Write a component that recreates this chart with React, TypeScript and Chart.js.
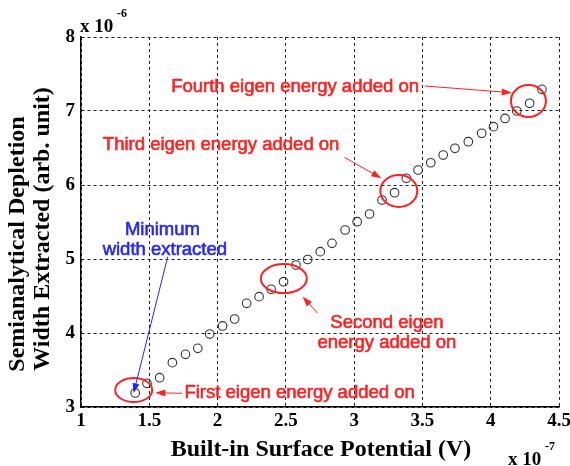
import React, { useEffect, useRef } from "react";
import { Chart, registerables } from "chart.js";

Chart.register(...registerables);

// Built-in surface potential (x 1e-7 V)
const potential = [
  1.397, 1.483, 1.576, 1.669, 1.765, 1.855, 1.943, 2.037, 2.125, 2.213,
  2.304, 2.392, 2.483, 2.574, 2.66, 2.752, 2.838, 2.934, 3.022, 3.113,
  3.204, 3.296, 3.382, 3.468, 3.561, 3.652, 3.738, 3.836, 3.934, 4.02,
  4.105, 4.191, 4.285, 4.375,
];
// Semianalytical depletion width (x 1e-6 arb. unit)
const depletion = [
  3.189, 3.32, 3.396, 3.599, 3.712, 3.793, 3.986, 4.095, 4.189, 4.401,
  4.491, 4.591, 4.693, 4.919, 4.993, 5.099, 5.212, 5.392, 5.504, 5.608,
  5.797, 5.896, 6.091, 6.203, 6.301, 6.405, 6.496, 6.585, 6.699, 6.788,
  6.899, 7.0, 7.104, 7.293,
];
const xTicks = [1, 1.5, 2, 2.5, 3, 3.5, 4, 4.5];
const yTicks = [3, 4, 5, 6, 7, 8];

const xTitle = "Built-in Surface Potential (V)";
const yTitleLines = ["Semianalytical Depletion", "Width Extracted (arb. unit)"];

// Annotations (data coordinates)
const ellipseCenters = [
  { x: 1.386, y: 3.23 },
  { x: 2.485, y: 4.736 },
  { x: 3.327, y: 5.919 },
  { x: 4.276, y: 7.135 },
];
const ellipseRadii = [
  { rx: 18.5, ry: 12 },
  { rx: 23, ry: 14.5 },
  { rx: 18.5, ry: 16 },
  { rx: 17.5, ry: 16 },
];
const redArrows = [
  { x1: 1.74, y1: 3.185, x2: 1.544, y2: 3.193 },
  { x1: 2.733, y1: 4.266, x2: 2.623, y2: 4.491 },
  { x1: 2.929, y1: 6.374, x2: 3.199, y2: 6.091 },
  { x1: 3.517, y1: 7.338, x2: 4.154, y2: 7.247 },
];
const blueArrow = { x1: 1.635, y1: 5.031, x2: 1.385, y2: 3.185 };
const redLabels = [
  { text: "Fourth eigen energy added on", x: 1.66, y: 7.328, align: "left" },
  { text: "Third eigen energy added on", x: 1.16, y: 6.541, align: "left" },
  { text: "First eigen energy added on", x: 1.757, y: 3.185, align: "left" },
  { text: "Second eigen", x: 3.24, y: 4.139, align: "center" },
  { text: "energy added on", x: 3.24, y: 3.861, align: "center" },
];
const blueLabels = [
  { text: "Minimum", x: 1.596, y: 5.392 },
  { text: "width extracted", x: 1.614, y: 5.122 },
];

const RED = "#ff2020";
const BLUE = "#2626ff";
const SERIF = "'Liberation Serif', 'Times New Roman', serif";
const SANS = "'Liberation Sans', Arial, sans-serif";

function drawArrow(ctx: CanvasRenderingContext2D, x1: number, y1: number, x2: number, y2: number, color: string) {
  const ang = Math.atan2(y2 - y1, x2 - x1);
  const len = 10;
  const hw = 3.5;
  ctx.save();
  ctx.strokeStyle = color;
  ctx.fillStyle = color;
  ctx.lineWidth = 1;
  ctx.beginPath();
  ctx.moveTo(x1, y1);
  ctx.lineTo(x2 - Math.cos(ang) * len * 0.8, y2 - Math.sin(ang) * len * 0.8);
  ctx.stroke();
  ctx.beginPath();
  ctx.moveTo(x2, y2);
  ctx.lineTo(x2 - Math.cos(ang) * len - Math.sin(ang) * hw, y2 - Math.sin(ang) * len + Math.cos(ang) * hw);
  ctx.lineTo(x2 - Math.cos(ang) * len + Math.sin(ang) * hw, y2 - Math.sin(ang) * len - Math.cos(ang) * hw);
  ctx.closePath();
  ctx.fill();
  ctx.restore();
}

function heavyText(ctx: CanvasRenderingContext2D, text: string, x: number, y: number, color: string) {
  ctx.fillStyle = color;
  ctx.strokeStyle = color;
  ctx.lineWidth = 0.6;
  ctx.fillText(text, x, y);
  ctx.strokeText(text, x, y);
}

const annotationPlugin = {
  id: "annotations",
  afterDraw(chart: any) {
    const ctx: CanvasRenderingContext2D = chart.ctx;
    const xs = chart.scales.x;
    const ys = chart.scales.y;
    const px = (v: number) => xs.getPixelForValue(v);
    const py = (v: number) => ys.getPixelForValue(v);
    const area = chart.chartArea;

    ctx.save();
    // ellipses
    ctx.strokeStyle = RED;
    ctx.lineWidth = 2;
    ellipseCenters.forEach((c, i) => {
      ctx.beginPath();
      ctx.ellipse(px(c.x), py(c.y), ellipseRadii[i].rx, ellipseRadii[i].ry, 0, 0, Math.PI * 2);
      ctx.stroke();
    });
    // arrows
    redArrows.forEach((a) => drawArrow(ctx, px(a.x1), py(a.y1), px(a.x2), py(a.y2), RED));
    drawArrow(ctx, px(blueArrow.x1), py(blueArrow.y1), px(blueArrow.x2), py(blueArrow.y2), BLUE);

    // labels
    ctx.font = `18.5px ${SANS}`;
    ctx.textBaseline = "middle";
    redLabels.forEach((l) => {
      ctx.textAlign = l.align as CanvasTextAlign;
      heavyText(ctx, l.text, px(l.x), py(l.y), RED);
    });
    ctx.textAlign = "center";
    blueLabels.forEach((l) => heavyText(ctx, l.text, px(l.x), py(l.y), BLUE));

    // axis titles
    ctx.fillStyle = "#000";
    ctx.font = `bold 24px ${SERIF}`;
    ctx.textAlign = "center";
    ctx.fillText(xTitle, (area.left + area.right) / 2 + 1, 450);
    const yCenters = [244, 229];
    const yXs = [18, 43];
    yTitleLines.forEach((t, i) => {
      ctx.save();
      ctx.translate(yXs[i], yCenters[i]);
      ctx.rotate(-Math.PI / 2);
      ctx.fillText(t, 0, 0);
      ctx.restore();
    });

    // exponent multipliers
    ctx.textAlign = "left";
    ctx.font = `bold 19px ${SERIF}`;
    ctx.fillText("x 10", area.left - 1, area.top - 10);
    ctx.font = `bold 12px ${SERIF}`;
    ctx.fillText("-6", area.left + 36, area.top - 23);
    ctx.font = `bold 19px ${SERIF}`;
    ctx.fillText("x 10", area.right - 51, 460);
    ctx.font = `bold 12px ${SERIF}`;
    ctx.fillText("-7", area.right - 14, 447);
    ctx.restore();
  },
};

export default function App() {
  const ref = useRef<HTMLCanvasElement | null>(null);
  useEffect(() => {
    if (!ref.current) return;
    const chart = new Chart(ref.current, {
      type: "scatter",
      data: {
        datasets: [
          {
            data: potential.map((x, i) => ({ x, y: depletion[i] })),
            showLine: false,
            pointStyle: "circle",
            pointRadius: 4.3,
            pointBorderWidth: 1.1,
            pointBorderColor: "#333",
            pointBackgroundColor: "rgba(0,0,0,0)",
          },
        ],
      },
      options: {
        animation: false,
        responsive: false,
        maintainAspectRatio: false,
        layout: { padding: { left: 0, top: 37, right: 11, bottom: 0 } },
        plugins: { legend: { display: false }, tooltip: { enabled: false } },
        scales: {
          x: {
            type: "linear",
            min: 1,
            max: 4.5,
            afterBuildTicks: (s: any) => {
              s.ticks = xTicks.map((v) => ({ value: v }));
            },
            afterFit: (s: any) => {
              s.height = 59;
              s.paddingLeft = 0;
              s.paddingRight = 0;
            },
            ticks: {
              color: "#000",
              font: { family: SERIF, size: 19, weight: "bold" },
              padding: 3,
              maxRotation: 0,
              autoSkip: false,
              callback: (v: any) => String(v),
            },
            grid: { color: "#222", lineWidth: 1, drawTicks: false },
            border: { display: true, color: "#000", width: 1.5, dash: [3, 3] },
          },
          y: {
            type: "linear",
            min: 3,
            max: 8,
            afterBuildTicks: (s: any) => {
              s.ticks = yTicks.map((v) => ({ value: v }));
            },
            afterFit: (s: any) => {
              s.width = 81;
              s.paddingTop = 0;
              s.paddingBottom = 0;
            },
            ticks: {
              color: "#000",
              font: { family: SERIF, size: 19, weight: "bold" },
              padding: 6,
              autoSkip: false,
              callback: (v: any) => String(v),
            },
            grid: { color: "#222", lineWidth: 1, drawTicks: false },
            border: { display: true, color: "#000", width: 1.5, dash: [3, 3] },
          },
        },
      },
      plugins: [annotationPlugin],
    } as any);
    return () => chart.destroy();
  }, []);
  return (
    <div style={{ position: "absolute", left: 0, top: 0, width: 570, height: 466, background: "#fff" }}>
      <canvas ref={ref} width={570} height={466} style={{ width: 570, height: 466 }} />
    </div>
  );
}
